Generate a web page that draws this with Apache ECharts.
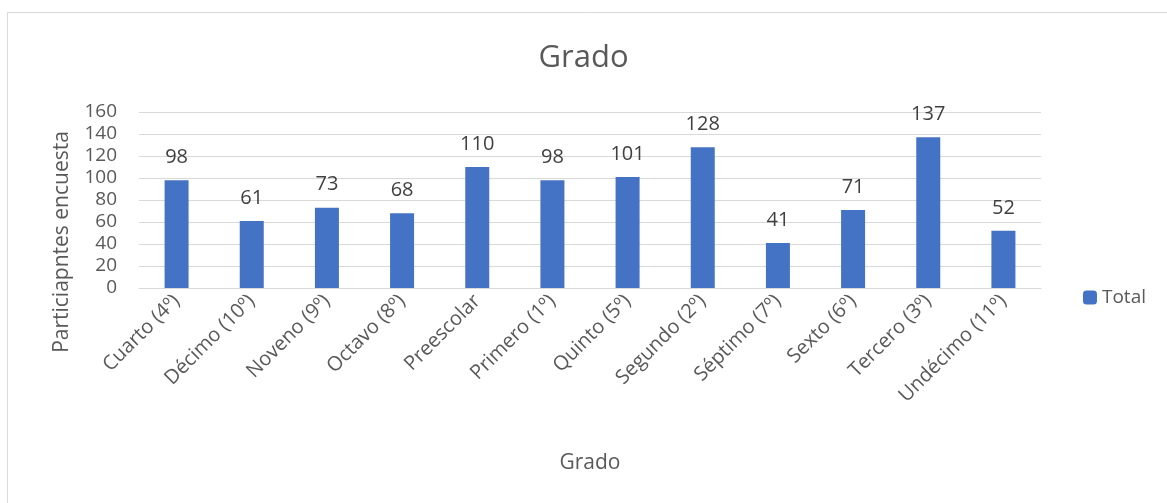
<!DOCTYPE html>
<html>
<head>
<meta charset="utf-8">
<script src="https://cdn.jsdelivr.net/npm/echarts@6/dist/echarts.min.js"></script>
<style>
  html, body { margin: 0; padding: 0; background: #fff; }
  #chart { width: 1167px; height: 503px; }
</style>
</head>
<body>
<div id="chart"></div>
<script>
const categories = ['Cuarto (4º)', 'Décimo (10º)', 'Noveno (9º)', 'Octavo (8º)', 'Preescolar', 'Primero (1º)',
    'Quinto (5º)', 'Segundo (2º)', 'Séptimo (7º)', 'Sexto (6º)', 'Tercero (3º)', 'Undécimo (11º)']
const totals = [98, 61, 73, 68, 110, 98, 101, 128, 41, 71, 137, 52]
const yTicks = { min: 0, max: 160, step: 20 }

const fontFamily = '"Open Sans", "Liberation Sans", sans-serif'
const textColor = '#595959'

let chart = echarts.init(document.getElementById('chart'), null, { renderer: 'canvas' })

let options = {
    backgroundColor: '#fff',
    color: ['#4472C4'],
    textStyle: { fontFamily: fontFamily },
    graphic: [{
        type: 'rect',
        shape: { x: 7.5, y: 12.5, width: 1200, height: 520 },
        style: { fill: 'none', stroke: '#D9D9D9', lineWidth: 1 },
        silent: true
    }],
    title: {
        text: 'Grado',
        left: 'center',
        top: 38,
        textStyle: { fontSize: 31, fontWeight: 'normal', color: textColor, fontFamily: fontFamily }
    },
    legend: {
        data: ['Total'],
        right: 16,
        top: 283,
        itemWidth: 14,
        itemHeight: 14,
        itemGap: 6,
        textStyle: { fontSize: 19, color: textColor, fontFamily: fontFamily }
    },
    grid: {
        left: 139,
        right: 126,
        top: 112,
        bottom: 215
    },
    xAxis: {
        type: 'category',
        data: categories,
        name: 'Grado',
        nameLocation: 'middle',
        nameGap: 165,
        nameTextStyle: { fontSize: 21, color: textColor, fontFamily: fontFamily },
        axisLine: { lineStyle: { color: '#D9D9D9', width: 1 } },
        axisTick: { show: false },
        axisLabel: { rotate: 45, fontSize: 20, color: textColor, margin: 10, interval: 0, fontFamily: fontFamily }
    },
    yAxis: {
        type: 'value',
        min: yTicks.min,
        max: yTicks.max,
        interval: yTicks.step,
        name: 'Particiapntes encuesta',
        nameLocation: 'middle',
        nameGap: 66,
        nameTextStyle: { fontSize: 21, color: textColor, fontFamily: fontFamily, padding: [0, 84, 0, 0] },
        axisLine: { show: false },
        axisTick: { show: false },
        axisLabel: { fontSize: 19, color: textColor, margin: 22, fontFamily: fontFamily },
        splitLine: { lineStyle: { color: '#D9D9D9', width: 1 } }
    },
    series: [{
        name: 'Total',
        type: 'bar',
        data: totals,
        barWidth: 24,
        label: {
            show: true,
            position: 'top',
            distance: 13,
            fontSize: 20,
            color: '#404040',
            fontFamily: fontFamily
        }
    }]
}

chart.setOption(options)
</script>
</body>
</html>
